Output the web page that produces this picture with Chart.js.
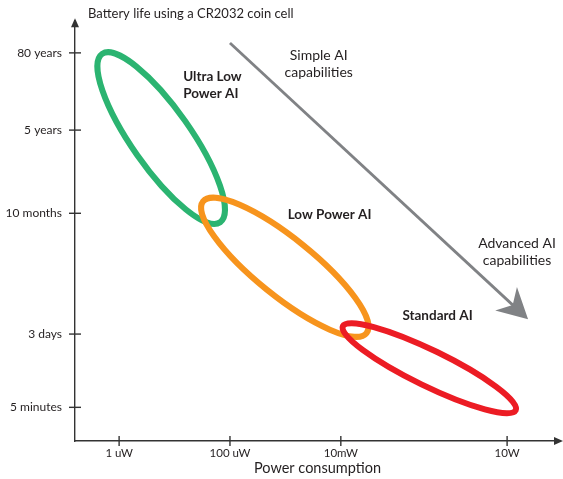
<!DOCTYPE html>
<html><head><meta charset="utf-8">
<script src="https://cdn.jsdelivr.net/npm/chart.js@4.4.0/dist/chart.umd.min.js"></script>
<style>html,body{margin:0;padding:0;background:#fff}#wrap{width:563px;height:479px}</style>
</head><body><div id="wrap"><canvas id="c" width="563" height="479"></canvas></div>
<script>
// ---- data ----
const categories = ['Ultra Low Power AI', 'Low Power AI', 'Standard AI'];
const powerMin = [4.94e-7, 3.27e-5, 0.0109];    // W, upper-left end of each region
const powerMax = [6.67e-5, 0.0291, 14.3];       // W, lower-right end of each region
const lifeAtPowerMin = [39.1, 24.2, 11.6];      // battery-life axis position
const lifeAtPowerMax = [22.1, 10.9, 3.1];
const xTickValues = [1e-6, 1e-4, 1e-2, 10];
const xTickLabels = ['1 uW', '100 uW', '10mW', '10W'];
const yTickValues = [3.4, 10.8, 23.0, 31.4, 39.2];
const yTickLabels = ['5 minutes', '3 days', '10 months', '5 years', '80 years'];
const trendFrom = {x: 1e-4, y: 40.2};
const trendTo = {x: 23.9, y: 12.3};

// ---- styles ----
const colors = ['#2bb471', '#f7941d', '#ec1c24'];
const ratios = [0.286, 0.274, 0.187];
const FONT = 'Lato, "Open Sans", sans-serif';
const annotations = [
  {lines: ['Ultra Low', 'Power AI'], x: 1.43e-5, y: 36.8, align: 'left', bold: true, size: 13.5},
  {lines: ['Low Power AI'], x: 1.10e-3, y: 22.9, align: 'left', bold: true, size: 13.5},
  {lines: ['Standard AI'], x: 0.129, y: 12.7, align: 'left', bold: true, size: 13.5},
  {lines: ['Simple AI', 'capabilities'], x: 3.99e-3, y: 38.9, align: 'center', bold: false, size: 14},
  {lines: ['Advanced AI', 'capabilities'], x: 15.1, y: 19.9, align: 'center', bold: false, size: 14}
];

const datasets = categories.map((c, i) => ({
  label: c,
  data: [{x: powerMin[i], y: lifeAtPowerMin[i]}, {x: powerMax[i], y: lifeAtPowerMax[i]}],
  borderColor: colors[i],
  showLine: false,
  pointRadius: 0,
  ellipseRatio: ratios[i],
  ellipseWidth: 6
}));

const drawPlugin = {
  id: 'schematic',
  afterDatasetsDraw(chart) {
    const ctx = chart.ctx, xs = chart.scales.x, ys = chart.scales.y;
    chart.data.datasets.forEach((ds, i) => {
      const m = chart.getDatasetMeta(i);
      const p0 = m.data[0], p1 = m.data[1];
      const cx = (p0.x + p1.x) / 2, cy = (p0.y + p1.y) / 2;
      const a = Math.hypot(p1.x - p0.x, p1.y - p0.y) / 2;
      const ang = Math.atan2(p1.y - p0.y, p1.x - p0.x);
      ctx.save();
      ctx.beginPath();
      ctx.ellipse(cx, cy, a, a * ds.ellipseRatio, ang, 0, Math.PI * 2);
      ctx.lineWidth = ds.ellipseWidth;
      ctx.strokeStyle = ds.borderColor;
      ctx.stroke();
      ctx.restore();
    });
    const fx = xs.getPixelForValue(trendFrom.x), fy = ys.getPixelForValue(trendFrom.y);
    const tx = xs.getPixelForValue(trendTo.x), ty = ys.getPixelForValue(trendTo.y);
    const L = Math.hypot(tx - fx, ty - fy), ux = (tx - fx) / L, uy = (ty - fy) / L;
    const nx = -uy, ny = ux;
    ctx.save();
    ctx.strokeStyle = '#808285'; ctx.fillStyle = '#808285'; ctx.lineWidth = 2.8;
    ctx.beginPath(); ctx.moveTo(fx, fy); ctx.lineTo(tx - 20 * ux, ty - 20 * uy); ctx.stroke();
    ctx.beginPath();
    ctx.moveTo(tx, ty);
    ctx.lineTo(tx - 30 * ux + 16 * nx, ty - 30 * uy + 16 * ny);
    ctx.lineTo(tx - 21 * ux, ty - 21 * uy);
    ctx.lineTo(tx - 30 * ux - 16 * nx, ty - 30 * uy - 16 * ny);
    ctx.closePath(); ctx.fill();
    ctx.restore();
    ctx.save();
    ctx.fillStyle = '#231f20';
    ctx.textBaseline = 'middle';
    annotations.forEach(an => {
      ctx.font = (an.bold ? 'bold ' : '') + an.size + 'px ' + FONT;
      ctx.textAlign = an.align;
      const px = xs.getPixelForValue(an.x), py = ys.getPixelForValue(an.y);
      an.lines.forEach((t, k) => ctx.fillText(t, px, py + k * 17));
    });
    ctx.restore();
  },
  afterDraw(chart) {
    const ctx = chart.ctx, xs = chart.scales.x, ys = chart.scales.y, ca = chart.chartArea;
    ctx.save();
    ctx.strokeStyle = '#333'; ctx.fillStyle = '#333'; ctx.lineWidth = 1.4;
    ys.ticks.forEach(t => {
      const py = ys.getPixelForValue(t.value);
      ctx.beginPath(); ctx.moveTo(ca.left - 6, py); ctx.lineTo(ca.left + 6, py); ctx.stroke();
    });
    xs.ticks.forEach(t => {
      const px = xs.getPixelForValue(t.value);
      ctx.beginPath(); ctx.moveTo(px, ca.bottom - 5); ctx.lineTo(px, ca.bottom + 5); ctx.stroke();
    });
    ctx.beginPath();
    ctx.moveTo(ca.left, ca.top - 2); ctx.lineTo(ca.left - 4, ca.top + 7); ctx.lineTo(ca.left + 4, ca.top + 7);
    ctx.closePath(); ctx.fill();
    ctx.beginPath();
    ctx.moveTo(ca.right + 3, ca.bottom); ctx.lineTo(ca.right - 6, ca.bottom - 4); ctx.lineTo(ca.right - 6, ca.bottom + 4);
    ctx.closePath(); ctx.fill();
    ctx.fillStyle = '#231f20';
    ctx.font = '13px ' + FONT;
    ctx.textAlign = 'left'; ctx.textBaseline = 'middle';
    ctx.fillText('Battery life using a CR2032 coin cell', ca.left + 13, 14);
    ctx.restore();
  }
};

new Chart(document.getElementById('c'), {
  type: 'scatter',
  data: {datasets},
  options: {
    responsive: false,
    animation: false,
    devicePixelRatio: 1,
    layout: {padding: {left: 0, right: 3, top: 16, bottom: 0}},
    plugins: {legend: {display: false}, tooltip: {enabled: false}},
    scales: {
      x: {
        type: 'logarithmic',
        min: 1.6e-7, max: 90,
        afterFit: s => { s.height = 38; },
        afterBuildTicks: s => { s.ticks = xTickValues.map(v => ({value: v})); },
        grid: {display: false, drawTicks: false},
        border: {display: true, color: '#333', width: 1.4},
        ticks: {
          autoSkip: false, maxRotation: 0, padding: 5,
          color: '#231f20', font: {family: FONT, size: 11.5},
          callback: (v, i) => xTickLabels[i]
        },
        title: {display: true, text: 'Power consumption', color: '#231f20',
                font: {family: FONT, size: 14.5}, padding: {top: 0, bottom: 2}}
      },
      y: {
        type: 'linear',
        min: 0, max: 42.5,
        afterFit: s => { s.width = 75; },
        afterBuildTicks: s => { s.ticks = yTickValues.map(v => ({value: v})); },
        grid: {display: false, drawTicks: false},
        border: {display: true, color: '#333', width: 1.4},
        ticks: {
          autoSkip: false, padding: 13,
          color: '#231f20', font: {family: FONT, size: 12},
          callback: (v, i) => yTickLabels[i]
        }
      }
    }
  },
  plugins: [drawPlugin]
});
</script></body></html>
